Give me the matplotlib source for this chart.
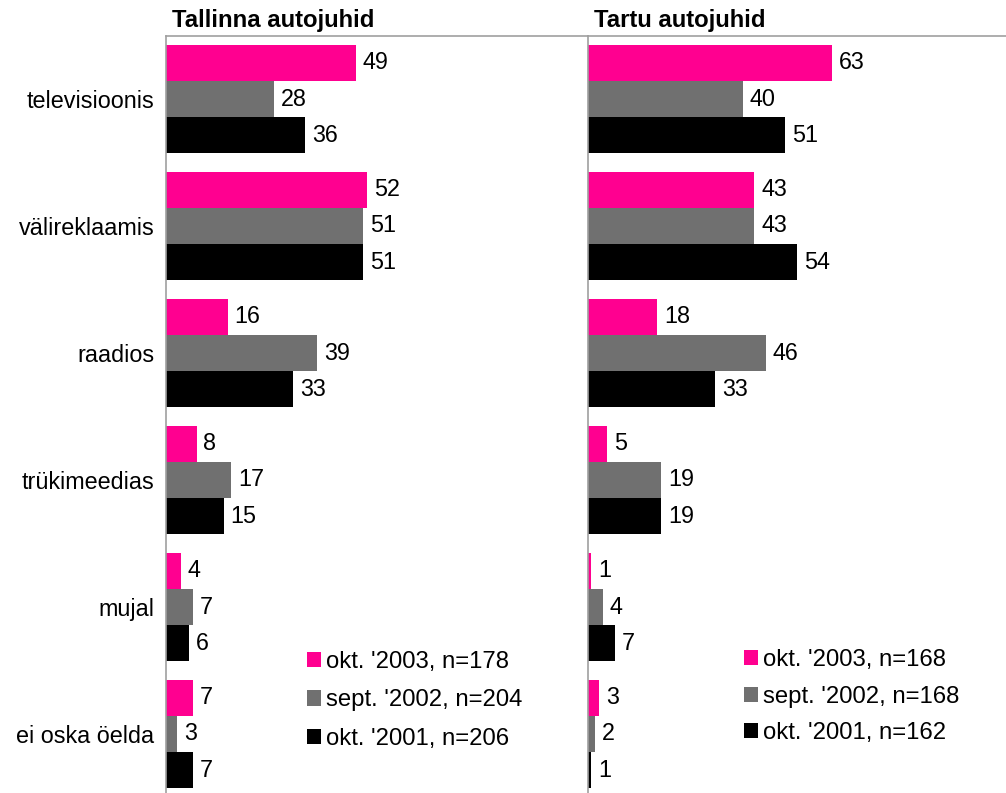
import numpy as np
import matplotlib
matplotlib.use("Agg")
import matplotlib.pyplot as plt
from matplotlib.patches import Patch

plt.rcParams['font.family'] = ['Liberation Sans', 'DejaVu Sans']

categories = ['televisioonis', 'välireklaamis', 'raadios', 'trükimeedias', 'mujal', 'ei oska öelda']

tallinn_2003 = [49, 52, 16, 8, 4, 7]
tallinn_2002 = [28, 51, 39, 17, 7, 3]
tallinn_2001 = [36, 51, 33, 15, 6, 7]

tartu_2003 = [63, 43, 18, 5, 1, 3]
tartu_2002 = [40, 43, 46, 19, 4, 2]
tartu_2001 = [51, 54, 33, 19, 7, 1]

tallinn_labels = ["okt. '2003, n=178", "sept. '2002, n=204", "okt. '2001, n=206"]
tartu_labels = ["okt. '2003, n=168", "sept. '2002, n=168", "okt. '2001, n=162"]

colors = ['#FF0090', '#707070', '#000000']
spine_color = '#A0A0A0'
fs = 16.8
legend_fs = 17.2

W, H = 1006, 793
fig = plt.figure(figsize=(W / 100, H / 100), dpi=100)

ax_h = 762 / H
ax_bottom = 1 - 797.5 / H
ax_w = 422 / W
ax_left = fig.add_axes([165.5 / W, ax_bottom, ax_w, ax_h])
ax_right = fig.add_axes([587.5 / W, ax_bottom, ax_w, ax_h])

bar_h = 0.286
y = np.arange(len(categories))


def draw_panel(ax, series, labels, title, show_ticks, legend_anchor, label_spacing):
    for k, (vals, col) in enumerate(zip(series, colors)):
        pos = y + (k - 1) * bar_h
        ax.barh(pos, vals, height=bar_h, color=col, edgecolor='none')
        for p, v in zip(pos, vals):
            ax.annotate(str(v), xy=(v, p), xytext=(5, 0), textcoords='offset points',
                        va='center', ha='left', fontsize=fs)
    ax.set_xlim(0, 108.8)
    ax.set_ylim(len(categories) - 0.5, -0.5)
    ax.set_xticks([])
    ax.set_yticks(y)
    if show_ticks:
        ax.set_yticklabels(categories, fontsize=fs)
    else:
        ax.set_yticklabels([])
    ax.tick_params(axis='y', length=0, pad=8)
    for s in ['right', 'bottom']:
        ax.spines[s].set_visible(False)
    for s in ['left', 'top']:
        ax.spines[s].set_color(spine_color)
        ax.spines[s].set_linewidth(1.2)
    ax.annotate(title, xy=(0, 1), xycoords='axes fraction', xytext=(5, 6),
                textcoords='offset points', ha='left', va='baseline',
                fontsize=17.2, fontweight='bold')
    handles = [Patch(facecolor=c, edgecolor='none') for c in colors]
    ax.legend(handles, labels, loc='upper left', bbox_to_anchor=legend_anchor,
              bbox_transform=fig.transFigure, frameon=False, fontsize=legend_fs,
              handlelength=0.6, handleheight=0.6, handletextpad=0.2,
              labelspacing=label_spacing, borderpad=0, borderaxespad=0)


draw_panel(ax_left, [tallinn_2003, tallinn_2002, tallinn_2001], tallinn_labels,
           'Tallinna autojuhid', True, (307 / W, 1 - 651 / H), 0.69)
draw_panel(ax_right, [tartu_2003, tartu_2002, tartu_2001], tartu_labels,
           'Tartu autojuhid', False, (744 / W, 1 - 649 / H), 0.61)

fig.savefig('out.png', dpi=100)
